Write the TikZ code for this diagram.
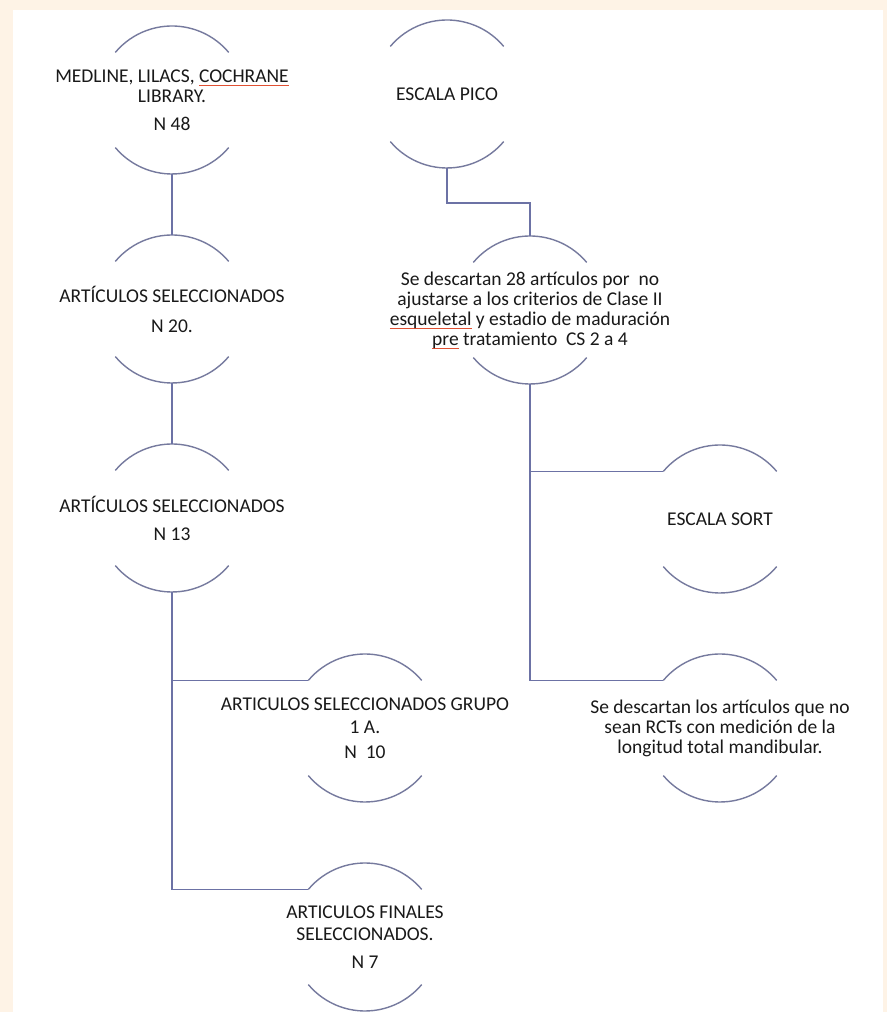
\documentclass[tikz,border=0pt]{standalone}
\usepackage{fontspec}
\setmainfont{Carlito}
\usetikzlibrary{calc}
\definecolor{peach}{RGB}{254,243,230}
\definecolor{linkblue}{RGB}{108,114,165}
\definecolor{rimgray}{RGB}{118,122,158}
\definecolor{spellred}{RGB}{225,80,50}
\newlength\spellwd
\newcommand{\spellmark}[1]{\settowidth{\spellwd}{#1}\rlap{\textcolor{spellred}{\rule[-3.5pt]{\spellwd}{0.8pt}}}#1}

\begin{document}
\begin{tikzpicture}[x=1pt, y=1pt, font=\fontsize{19.5}{20}\selectfont, line width=1.4pt]
  \useasboundingbox (0,0) rectangle (887,1012);
  \fill[peach] (0,0) rectangle (887,1012);
  \fill[white] (13,0) rectangle (883,1002);
  \tikzstyle{bubble} = [align=center, color=black!90, inner sep=0pt]
  \tikzstyle{rim} = [draw=rimgray]
  \tikzstyle{link} = [draw=linkblue]

  % left column
  \node (medline) at (172,912) [bubble] {MEDLINE, LILACS, \spellmark{COCHRANE}\\ LIBRARY.\\[8pt] N 48};
  \node (sel20) at (172,703) [bubble] {ARTÍCULOS SELECCIONADOS\\[10pt] N 20.};
  \node (sel13) at (172,494) [bubble] {ARTÍCULOS SELECCIONADOS\\[8pt] N 13};
  \node (grupo) at (365,284) [bubble] {ARTICULOS SELECCIONADOS GRUPO\\[3pt] 1 A.\\[5pt] N~~10};
  \node (finales) at (365,75) [bubble] {ARTICULOS FINALES\\[2pt] SELECCIONADOS.\\[8pt] N 7};

  % right column
  \node (pico) at (447,918) [bubble] {ESCALA PICO};
  \node (desc28) at (530,702) [bubble] {Se descartan 28 artículos por~ no\\ ajustarse a los criterios de Clase II\\ \spellmark{esqueletal} y estadio de maduración\\ \spellmark{pre} tratamiento~ CS 2 a 4};
  \node (sort) at (720,493) [bubble] {ESCALA SORT};
  \node (descrct) at (720,284) [bubble] {Se descartan los artículos que no\\ sean RCTs con medición de la\\ longitud total mandibular.};

  % open circles round the texts
  \foreach \n in {medline,sel20,sel13,grupo,finales,pico,desc28,sort,descrct} {
    \coordinate (\n-n) at ($(\n.center)+(90:74)$);
    \coordinate (\n-s) at ($(\n.center)+(270:74)$);
    \coordinate (\n-w) at ($(\n.center)+(140:74)$);
    \draw[rim] (\n-w) arc (140:40:74);
    \draw[rim] ($(\n.center)+(220:74)$) arc (220:320:74);
  }

  % connectors
  \draw[link] (medline-s) -- (sel20-n);
  \draw[link] (sel20-s) -- (sel13-n);
  \draw[link] (sel13-s) |- (finales-w);
  \draw[link] (sel13-s |- grupo-w) -- (grupo-w);
  \draw[link] (pico-s) -- ++(0,-35) -| (desc28-n);
  \draw[link] (desc28-s) |- (descrct-w);
  \draw[link] (desc28-s |- sort-w) -- (sort-w);
\end{tikzpicture}
\end{document}
